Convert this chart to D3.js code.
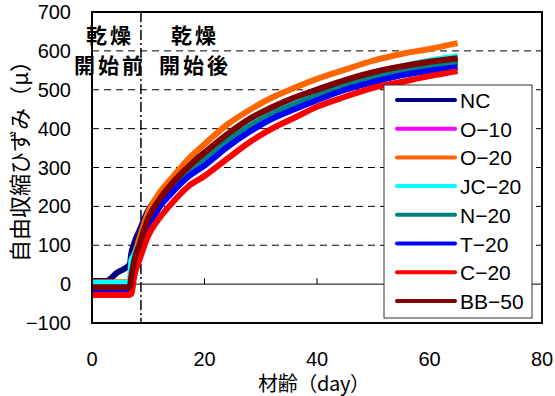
<!DOCTYPE html>
<meta charset="UTF-8">
<script src="https://cdnjs.cloudflare.com/ajax/libs/d3/7.4.4/d3.min.js"></script>
<style>
  body { margin: 0; background: #fff; }
  text { font-family: "Liberation Sans", Arial, sans-serif; }
  .jp { font-family: "Noto Sans CJK JP", sans-serif; }
</style>
<svg id="chart" width="555" height="396"></svg>
<script>
    // material age (day) sample points shared by every series
    let days = [0, 2.5, 4.5, 6.7, 7.0, 7.5, 8.5, 10, 12, 14, 17, 20, 24, 28, 32, 36, 40, 45, 50, 55, 60, 65];

    let names = ["NC", "O−10", "O−20", "JC−20", "N−20", "T−20", "C−20", "BB−50"];
    let colors = ["#000080", "#ff00ff", "#ff6600", "#00ffff", "#008080", "#0000ff", "#ff0000", "#800000"];

    let NC    = [8, 8, 30, 50, 80, 105, 140, 190, 230, 262, 305, 338, 378, 415, 448, 475, 500, 522, 540, 556, 568, 578];
    let O10   = [-12, -12, -12, -12, 5, 45, 90, 150, 200, 235, 280, 315, 362, 400, 432, 457, 480, 505, 527, 545, 560, 573];
    let O20   = [5, 5, 5, 5, 30, 70, 120, 185, 235, 270, 320, 360, 410, 448, 480, 505, 528, 552, 575, 592, 605, 620];
    let JC20  = [3, 3, 3, 3, 62, 75, 105, 160, 208, 243, 288, 322, 370, 408, 440, 466, 490, 518, 542, 560, 575, 586];
    let N20   = [-20, -20, -20, -20, 10, 50, 95, 155, 205, 240, 285, 320, 368, 405, 438, 462, 485, 510, 532, 548, 560, 570];
    let T20   = [-15, -15, -15, -15, 5, 40, 85, 145, 198, 232, 275, 305, 352, 392, 425, 450, 473, 500, 520, 537, 549, 558];
    let C20   = [-28, -28, -28, -28, -25, 20, 65, 125, 170, 205, 250, 278, 322, 365, 400, 428, 456, 482, 505, 520, 535, 548];
    let BB50  = [-8, -8, -8, -8, 20, 60, 105, 170, 218, 255, 300, 338, 385, 425, 455, 480, 500, 525, 545, 560, 572, 581];

    let seriesValues = [NC, O10, O20, JC20, N20, T20, C20, BB50];

    let xTicks = [0, 20, 40, 60, 80];
    let yTicks = [-100, 0, 100, 200, 300, 400, 500, 600, 700];
    let dryStart = 8.7;

    let svg = d3.select("svg");
    let pLeft = 92, pRight = 542, pTop = 12, pBottom = 323;

    let x = d3.scaleLinear().domain([0, 80]).range([pLeft, pRight]);
    let y = d3.scaleLinear().domain([-100, 700]).range([pBottom, pTop]);

    // dashed grid lines
    svg.append("g")
        .selectAll("line")
        .data(yTicks.filter(d => d > 0 && d < 700))
        .enter().append("line")
        .attr("x1", pLeft).attr("x2", pRight)
        .attr("y1", d => y(d)).attr("y2", d => y(d))
        .style("stroke", "#000")
        .style("stroke-width", 1)
        .style("stroke-dasharray", "7,5");

    // zero line with ticks
    svg.append("line")
        .attr("x1", pLeft).attr("x2", pRight)
        .attr("y1", y(0)).attr("y2", y(0))
        .style("stroke", "#000").style("stroke-width", 1);
    svg.append("g")
        .selectAll("line")
        .data(xTicks.filter(d => d > 0 && d < 80))
        .enter().append("line")
        .attr("x1", d => x(d)).attr("x2", d => x(d))
        .attr("y1", y(0)).attr("y2", y(0) - 6)
        .style("stroke", "#000").style("stroke-width", 1);

    // drying start line
    svg.append("line")
        .attr("x1", x(dryStart)).attr("x2", x(dryStart))
        .attr("y1", pTop).attr("y2", pBottom)
        .style("stroke", "#000")
        .style("stroke-width", 1.5)
        .style("stroke-dasharray", "10,3,2,3");

    // series
    let line = d3.line()
        .x((d, i) => x(days[i]))
        .y(d => y(d))
        .curve(d3.curveMonotoneX);

    svg.append("g")
        .selectAll("path")
        .data(seriesValues)
        .enter().append("path")
        .attr("d", d => line(d))
        .style("fill", "none")
        .style("stroke", (d, i) => colors[i])
        .style("stroke-width", 6)
        .style("stroke-linejoin", "round");

    // frame
    svg.append("rect")
        .attr("x", pLeft).attr("y", pTop)
        .attr("width", pRight - pLeft).attr("height", pBottom - pTop)
        .style("fill", "none")
        .style("stroke", "#000")
        .style("stroke-width", 2);

    // tick labels
    let fmt = d3.format("d");
    svg.append("g")
        .selectAll("text")
        .data(yTicks)
        .enter().append("text")
        .attr("x", 71)
        .attr("y", d => y(d) + 7)
        .style("text-anchor", "end")
        .style("font-size", "20px")
        .text(d => fmt(d));

    svg.append("g")
        .selectAll("text")
        .data(xTicks)
        .enter().append("text")
        .attr("x", d => x(d))
        .attr("y", 366)
        .style("text-anchor", "middle")
        .style("font-size", "20px")
        .text(d => fmt(d));

    // axis titles
    svg.append("text")
        .attr("class", "jp")
        .attr("transform", "translate(28,156) rotate(-90)")
        .attr("textLength", 212)
        .attr("lengthAdjust", "spacing")
        .style("text-anchor", "middle")
        .style("font-size", "22px")
        .text("自由収縮ひずみ（μ）");

    svg.append("text")
        .attr("class", "jp")
        .attr("x", 314).attr("y", 391)
        .attr("textLength", 112)
        .attr("lengthAdjust", "spacing")
        .style("text-anchor", "middle")
        .style("font-size", "20px")
        .text("材齢（day）");

    // phase labels
    let phase = [["乾燥", "開始前", 110], ["乾燥", "開始後", 195]];
    phase.forEach(function (p) {
        svg.append("text").attr("class", "jp")
            .attr("x", p[2]).attr("y", 43)
            .style("text-anchor", "middle").style("font-size", "21px")
            .style("font-weight", "bold").style("letter-spacing", "3px")
            .text(p[0]);
        svg.append("text").attr("class", "jp")
            .attr("x", p[2]).attr("y", 73)
            .style("text-anchor", "middle").style("font-size", "21px")
            .style("font-weight", "bold").style("letter-spacing", "3px")
            .text(p[1]);
    });

    // legend
    let lg = svg.append("g");
    lg.append("rect")
        .attr("x", 384).attr("y", 85)
        .attr("width", 148).attr("height", 233)
        .style("fill", "#fff")
        .style("stroke", "#333")
        .style("stroke-width", 1);
    let item = lg.selectAll("g")
        .data(names)
        .enter().append("g")
        .attr("transform", (d, i) => "translate(0," + (100 + i * 28.7) + ")");
    item.append("line")
        .attr("x1", 397).attr("x2", 455)
        .attr("y1", 0).attr("y2", 0)
        .style("stroke", (d, i) => colors[i])
        .style("stroke-width", 4)
        .style("stroke-linecap", "round");
    item.append("text")
        .attr("x", 460).attr("y", 8)
        .style("font-size", "21px")
        .text(d => d);
</script>
